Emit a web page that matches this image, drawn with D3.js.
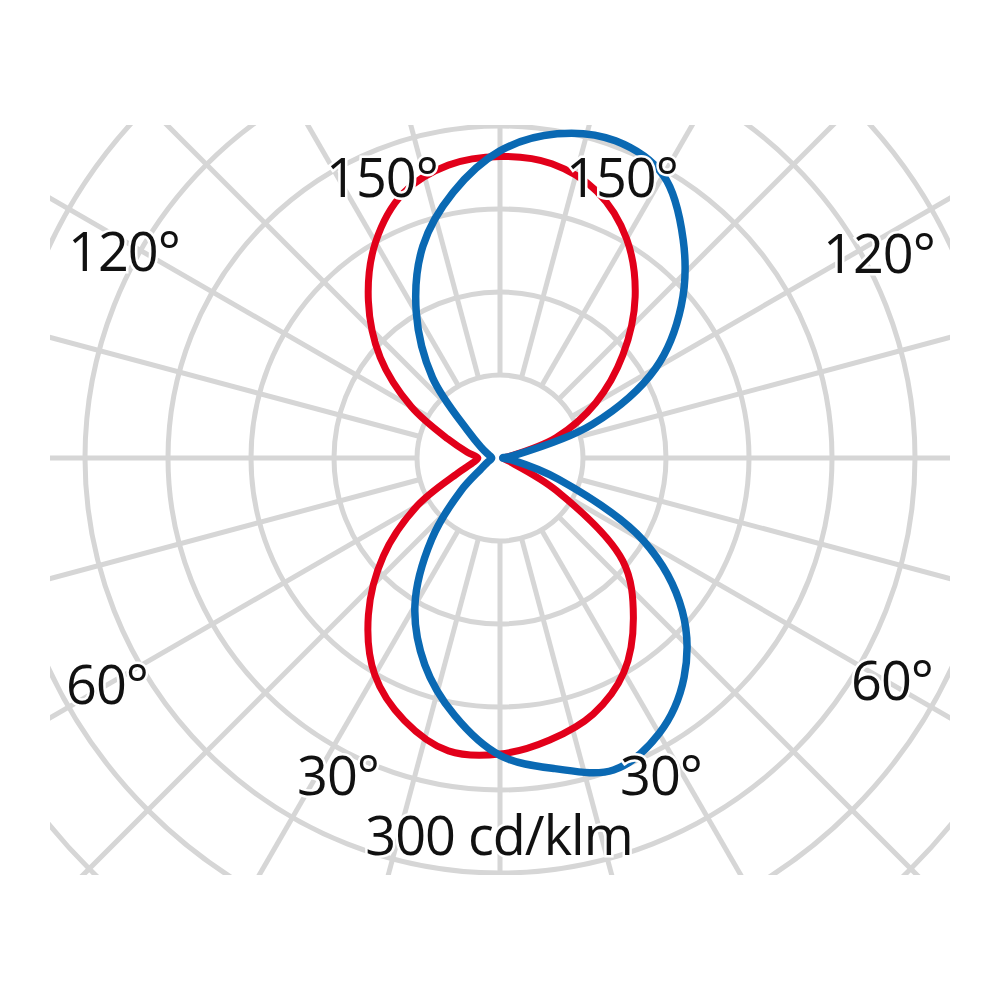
<!DOCTYPE html>
<html><head><meta charset="utf-8">
<script src="https://cdn.jsdelivr.net/npm/d3@7"></script>
<style>html,body{margin:0;background:#fff}</style>
</head><body>
<svg id="chart" width="1000" height="1000"></svg>
<script>
// ---- data (angle measured from nadir, clockwise toward the right side) ----
const angles = [0,10,20,30,40,50,60,70,80,90,100,110,120,130,140,150,160,170,
                180,190,200,210,220,230,240,250,260,270,280,290,300,310,320,330,340,350];
// red curve (cd/klm)
const redValues = [214,207,197,179,150,116,47,7,3,2,7,43,80,116,152,183,205,216,
                   218,215,204,180,148,113,74,40,24,16,20,33,69,110,148,181,202,215];
// blue curve (cd/klm)
const blueValues = [215,228,240,230,207,172,120,45,9,2,10,71,130,171,206,236,244,238,
                    222,195,163,121,76,30,16,10,7,6,7,10,16,37,77,123,159,189];
const ringValues = [60,120,180,240,300,360,420];
const spokeAngles = d3.range(0,360,15);
const angleLabels = ["150°","150°","120°","120°","60°","60°","30°","30°"];
const unitLabel = "300 cd/klm";

// ---- layout ----
const cx = 500, cy = 458;
const clip = {x:50, y:125, w:900, h:750};
const labelPos = [[382,197],[622,197],[124,271],[879,273],[107,704],[892,700],[338,795],[661,795]];
const unitPos = [499,855];

const r = d3.scaleLinear().domain([0,300]).range([0,415]);
const rad = d => d * Math.PI / 180;

const svg = d3.select("#chart");
svg.append("defs").append("clipPath").attr("id","clipArea")
  .append("rect").attr("x",clip.x).attr("y",clip.y).attr("width",clip.w).attr("height",clip.h);

const grid = svg.append("g").attr("clip-path","url(#clipArea)")
  .attr("stroke","#d6d6d6").attr("stroke-width",5).attr("fill","none");

grid.selectAll("circle").data(ringValues).join("circle")
  .attr("cx",cx).attr("cy",cy).attr("r",d=>r(d));

grid.selectAll("line").data(spokeAngles).join("line")
  .attr("x1",d=>cx + r(ringValues[0]) * Math.sin(rad(d)))
  .attr("y1",d=>cy + r(ringValues[0]) * Math.cos(rad(d)))
  .attr("x2",d=>cx + r(520) * Math.sin(rad(d)))
  .attr("y2",d=>cy + r(520) * Math.cos(rad(d)));

const line = d3.lineRadial()
  .angle(d => Math.PI - rad(d.a))
  .radius(d => r(d.v))
  .curve(d3.curveCatmullRomClosed.alpha(0.5));

const plot = svg.append("g").attr("transform",`translate(${cx},${cy})`).attr("fill","none");
const series = [
  {values: redValues, color:"#e2001a", w:7},
  {values: blueValues, color:"#0a69b3", w:7.5}
];
plot.selectAll("path").data(series).join("path")
  .attr("d", s => line(angles.map((a,i)=>({a, v:s.values[i]}))))
  .attr("stroke", s => s.color)
  .attr("stroke-width", s => s.w)
  .attr("stroke-linejoin","round");

const txt = svg.append("g")
  .attr("font-family","'Open Sans', 'Noto Sans', sans-serif")
  .attr("font-size",54).attr("fill","#111")
  .attr("text-anchor","middle")
  .attr("stroke","#fff").attr("stroke-width",5).attr("paint-order","stroke")
  .style("letter-spacing","-1px");

txt.selectAll("text.ang").data(angleLabels).join("text").attr("class","ang")
  .attr("x",(d,i)=>labelPos[i][0]).attr("y",(d,i)=>labelPos[i][1]).text(d=>d);
txt.append("text").attr("x",unitPos[0]).attr("y",unitPos[1]).text(unitLabel);
</script>
</body></html>
